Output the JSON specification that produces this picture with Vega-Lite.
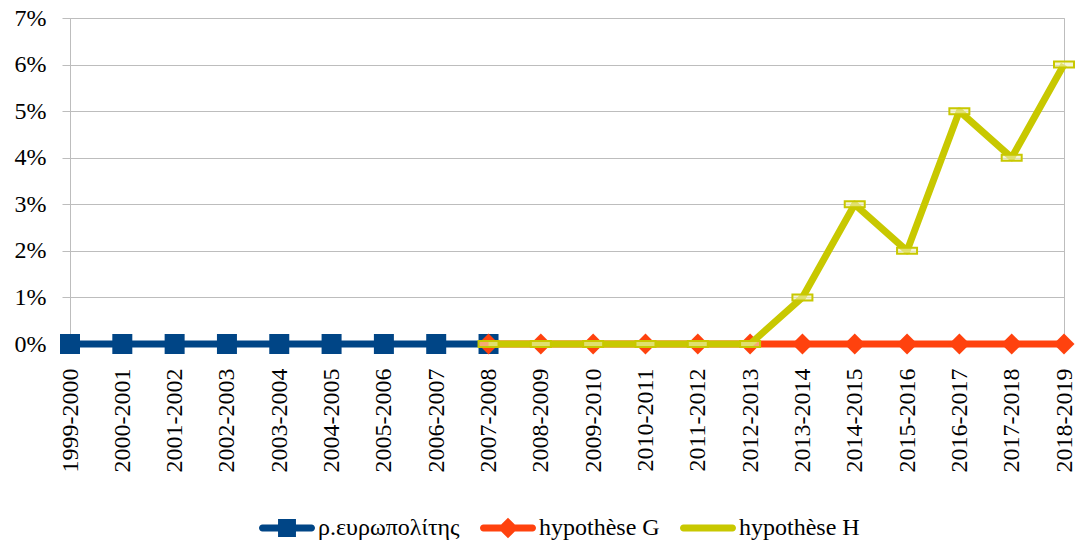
{
  "$schema": "https://vega.github.io/schema/vega-lite/v6.json",
  "autosize": {"type": "none"},
  "width": 994,
  "height": 326,
  "padding": {"left": 70, "top": 18, "right": 13, "bottom": 203},
  "background": "white",
  "config": {
    "view": {"stroke": "#bdbdbd", "strokeWidth": 1},
    "font": "Liberation Serif"
  },
  "data": {
    "values": [
      {"series": "ρ.ευρωπολίτης", "period": "1999-2000", "value": 0},
      {"series": "ρ.ευρωπολίτης", "period": "2000-2001", "value": 0},
      {"series": "ρ.ευρωπολίτης", "period": "2001-2002", "value": 0},
      {"series": "ρ.ευρωπολίτης", "period": "2002-2003", "value": 0},
      {"series": "ρ.ευρωπολίτης", "period": "2003-2004", "value": 0},
      {"series": "ρ.ευρωπολίτης", "period": "2004-2005", "value": 0},
      {"series": "ρ.ευρωπολίτης", "period": "2005-2006", "value": 0},
      {"series": "ρ.ευρωπολίτης", "period": "2006-2007", "value": 0},
      {"series": "ρ.ευρωπολίτης", "period": "2007-2008", "value": 0},
      {"series": "hypothèse G", "period": "2007-2008", "value": 0},
      {"series": "hypothèse G", "period": "2008-2009", "value": 0},
      {"series": "hypothèse G", "period": "2009-2010", "value": 0},
      {"series": "hypothèse G", "period": "2010-2011", "value": 0},
      {"series": "hypothèse G", "period": "2011-2012", "value": 0},
      {"series": "hypothèse G", "period": "2012-2013", "value": 0},
      {"series": "hypothèse G", "period": "2013-2014", "value": 0},
      {"series": "hypothèse G", "period": "2014-2015", "value": 0},
      {"series": "hypothèse G", "period": "2015-2016", "value": 0},
      {"series": "hypothèse G", "period": "2016-2017", "value": 0},
      {"series": "hypothèse G", "period": "2017-2018", "value": 0},
      {"series": "hypothèse G", "period": "2018-2019", "value": 0},
      {"series": "hypothèse H", "period": "2007-2008", "value": 0},
      {"series": "hypothèse H", "period": "2008-2009", "value": 0},
      {"series": "hypothèse H", "period": "2009-2010", "value": 0},
      {"series": "hypothèse H", "period": "2010-2011", "value": 0},
      {"series": "hypothèse H", "period": "2011-2012", "value": 0},
      {"series": "hypothèse H", "period": "2012-2013", "value": 0},
      {"series": "hypothèse H", "period": "2013-2014", "value": 0.01},
      {"series": "hypothèse H", "period": "2014-2015", "value": 0.03},
      {"series": "hypothèse H", "period": "2015-2016", "value": 0.02},
      {"series": "hypothèse H", "period": "2016-2017", "value": 0.05},
      {"series": "hypothèse H", "period": "2017-2018", "value": 0.04},
      {"series": "hypothèse H", "period": "2018-2019", "value": 0.06}
    ]
  },
  "encoding": {
    "x": {
      "field": "period",
      "type": "nominal",
      "sort": null,
      "scale": {
        "type": "point",
        "padding": 0,
        "domain": ["1999-2000", "2000-2001", "2001-2002", "2002-2003", "2003-2004", "2004-2005", "2005-2006", "2006-2007", "2007-2008", "2008-2009", "2009-2010", "2010-2011", "2011-2012", "2012-2013", "2013-2014", "2014-2015", "2015-2016", "2016-2017", "2017-2018", "2018-2019"]
      },
      "axis": {
        "title": null,
        "labelAngle": 270,
        "labelAlign": "right",
        "labelBaseline": "middle",
        "labelFont": "Liberation Serif",
        "labelFontSize": 24,
        "labelColor": "#000000",
        "labelPadding": 24,
        "ticks": false,
        "tickSize": 0,
        "domain": false,
        "grid": false
      }
    },
    "y": {
      "field": "value",
      "type": "quantitative",
      "scale": {"domain": [0, 0.07], "nice": false, "zero": true},
      "axis": {
        "title": null,
        "format": ".0%",
        "values": [0, 0.01, 0.02, 0.03, 0.04, 0.05, 0.06, 0.07],
        "labelFont": "Liberation Serif",
        "labelFontSize": 24,
        "labelColor": "#000000",
        "labelPadding": 16,
        "tickSize": 8,
        "tickColor": "#bdbdbd",
        "domainColor": "#bdbdbd",
        "grid": true,
        "gridColor": "#bdbdbd",
        "gridWidth": 1
      }
    },
    "color": {
      "field": "series",
      "type": "nominal",
      "scale": {
        "domain": ["ρ.ευρωπολίτης", "hypothèse G", "hypothèse H"],
        "range": ["#004586", "#ff420e", "#c8c800"]
      },
      "legend": {
        "title": null,
        "orient": "none",
        "direction": "horizontal",
        "legendX": 189,
        "legendY": 482,
        "padding": 0,
        "labelFont": "Liberation Serif, DejaVu Serif, serif",
        "labelFontSize": 24,
        "labelColor": "#000000",
        "labelOffset": 3,
        "columnPadding": 20,
        "symbolSize": 3136,
        "symbolStrokeWidth": 0,
        "encode": {
          "symbols": {
            "update": {
              "shape": {"signal": "datum.value === 'ρ.ευρωπολίτης' ? 'M-0.875,-0.125H0.875A0.125,0.125 0 0 1 0.875,0.125H-0.875A0.125,0.125 0 0 1 -0.875,-0.125ZM-0.32,-0.32H0.32V0.32H-0.32Z' : datum.value === 'hypothèse G' ? 'M-0.875,-0.125H0.875A0.125,0.125 0 0 1 0.875,0.125H-0.875A0.125,0.125 0 0 1 -0.875,-0.125ZM0,-0.37L0.37,0L0,0.37L-0.37,0Z' : 'M-0.875,-0.125H0.875A0.125,0.125 0 0 1 0.875,0.125H-0.875A0.125,0.125 0 0 1 -0.875,-0.125Z'"},
              "fill": {"scale": "color", "field": "value"},
              "fillOpacity": {"value": 1},
              "strokeWidth": {"value": 0}
            }
          }
        }
      }
    }
  },
  "layer": [
    {
      "transform": [{"filter": "datum.series === 'ρ.ευρωπολίτης'"}],
      "mark": {"type": "line", "strokeWidth": 7, "strokeJoin": "round"}
    },
    {
      "transform": [{"filter": "datum.series === 'ρ.ευρωπολίτης'"}],
      "mark": {"type": "point", "shape": "square", "size": 400, "filled": true, "opacity": 1},
      "encoding": {"color": {"field": "series", "type": "nominal", "legend": null}}
    },
    {
      "transform": [{"filter": "datum.series === 'hypothèse G'"}],
      "mark": {"type": "line", "strokeWidth": 7, "strokeJoin": "round"},
      "encoding": {"color": {"field": "series", "type": "nominal", "legend": null}}
    },
    {
      "transform": [{"filter": "datum.series === 'hypothèse G'"}],
      "mark": {"type": "point", "shape": "diamond", "size": 440, "filled": true, "opacity": 1},
      "encoding": {"color": {"field": "series", "type": "nominal", "legend": null}}
    },
    {
      "transform": [{"filter": "datum.series === 'hypothèse H'"}],
      "mark": {"type": "line", "strokeWidth": 7, "strokeJoin": "round"},
      "encoding": {"color": {"field": "series", "type": "nominal", "legend": null}}
    },
    {
      "transform": [{"filter": "datum.series === 'hypothèse H'"}],
      "mark": {"type": "point", "shape": "M-1,-0.3H1V0.3H-1Z", "size": 400, "filled": false, "fill": "#f0f0b8", "fillOpacity": 0.6, "strokeWidth": 2, "opacity": 1},
      "encoding": {
        "color": {"field": "series", "type": "nominal", "legend": null},
        "stroke": {"field": "series", "type": "nominal", "scale": {"domain": ["ρ.ευρωπολίτης", "hypothèse G", "hypothèse H"], "range": ["#004586", "#ff420e", "#c8c800"]}, "legend": null}
      }
    }
  ]
}
